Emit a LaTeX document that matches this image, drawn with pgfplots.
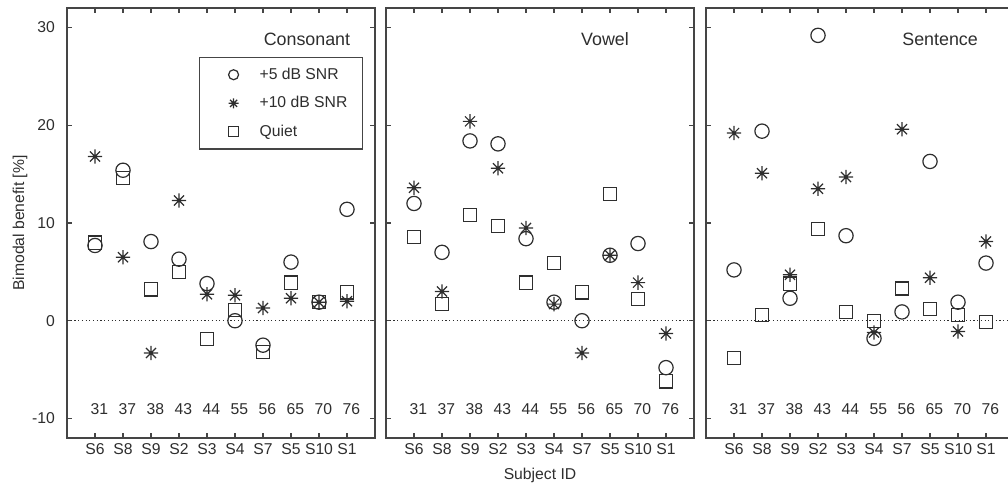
\documentclass[border=0pt]{standalone}
\usepackage{pgfplots}
\pgfplotsset{compat=1.18}
\usepackage{pgfplotstable}
\usepackage{fontspec}
\setmainfont{Liberation Sans}

% MATLAB-style asterisk: plus and cross combined
\pgfdeclareplotmark{ast8}{%
  \pgfpathmoveto{\pgfqpoint{-\pgfplotmarksize}{0pt}}%
  \pgfpathlineto{\pgfqpoint{\pgfplotmarksize}{0pt}}%
  \pgfpathmoveto{\pgfqpoint{0pt}{-\pgfplotmarksize}}%
  \pgfpathlineto{\pgfqpoint{0pt}{\pgfplotmarksize}}%
  \pgfpathmoveto{\pgfqpoint{-0.707\pgfplotmarksize}{-0.707\pgfplotmarksize}}%
  \pgfpathlineto{\pgfqpoint{0.707\pgfplotmarksize}{0.707\pgfplotmarksize}}%
  \pgfpathmoveto{\pgfqpoint{-0.707\pgfplotmarksize}{0.707\pgfplotmarksize}}%
  \pgfpathlineto{\pgfqpoint{0.707\pgfplotmarksize}{-0.707\pgfplotmarksize}}%
  \pgfusepathqstroke
}

\definecolor{ink}{gray}{0.18}
\definecolor{axisgray}{gray}{0.27}
\newcommand{\txt}{\fontsize{11}{13}\selectfont}

% x: subject position, snr5 / snr10 / quiet: bimodal benefit (%)
\pgfplotstableread{
x snr5 snr10 quiet
1 7.7 16.8 8.0
2 15.4 6.5 14.6
3 8.1 -3.3 3.2
4 6.3 12.3 5.0
5 3.8 2.7 -1.9
6 0.0 2.6 1.1
7 -2.5 1.3 -3.2
8 6.0 2.3 3.9
9 1.9 1.9 1.9
10 11.4 2.0 2.9
}\consonant

\pgfplotstableread{
x snr5 snr10 quiet
1 12.0 13.6 8.6
2 7.0 3.0 1.7
3 18.4 20.4 10.8
4 18.1 15.6 9.7
5 8.4 9.5 3.9
6 1.9 1.7 5.9
7 0.0 -3.3 2.9
8 6.7 6.7 13.0
9 7.9 3.9 2.2
10 -4.8 -1.3 -6.2
}\vowel

\pgfplotstableread{
x snr5 snr10 quiet
1 5.2 19.2 -3.8
2 19.4 15.1 0.6
3 2.3 4.7 3.8
4 29.2 13.5 9.4
5 8.7 14.7 0.9
6 -1.8 -1.2 0.0
7 0.9 19.6 3.3
8 16.3 4.4 1.2
9 1.9 -1.1 0.6
10 5.9 8.1 -0.1
}\sentence

\pgfplotstableread{
x y lab
1 -9 31
2 -9 37
3 -9 38
4 -9 43
5 -9 44
6 -9 55
7 -9 56
8 -9 65
9 -9 70
10 -9 76
}\ages

\pgfplotsset{
  panel/.style={
    anchor=south west, scale only axis,
    width=215.6pt, height=301pt,
    xmin=0, xmax=11, ymin=-12, ymax=32,
    xtick={1,...,10},
    xticklabels={S6,S8,S9,S2,S3,S4,S7,S5,S10,S1},
    ytick={-10,0,10,20,30},
    tick align=inside, major tick length=3.5pt,
    xtick pos=both, ytick pos=both,
    axis line style={axisgray, line width=0.8pt},
    tick style={axisgray, line width=0.8pt},
    tick label style={font=\txt, text=ink},
    yticklabel style={xshift=-5pt},
    label style={font=\txt, text=ink},
    /pgf/number format/assume math mode=true,
    clip=false,
  },
  s5/.style={only marks, mark=o, mark size=5pt, ink, line width=0.85pt},
  s10/.style={only marks, mark=ast8, mark size=5pt, ink, line width=0.85pt},
  sq/.style={only marks, mark=square, mark size=4.6pt, ink, line width=0.85pt},
  zeroline/.style={forget plot, ink, line width=0.8pt, dash pattern=on 0.8pt off 1.8pt},
  agelabels/.style={forget plot, only marks, mark=none, nodes near coords,
    point meta=explicit symbolic,
    nodes near coords style={anchor=center, font=\txt, text=ink, xshift=3pt}},
}

\begin{document}
\begin{tikzpicture}
% Consonant
\begin{axis}[panel, at={(46.9pt,34.3pt)},
    ylabel={Bimodal benefit [\%]},
    ylabel style={at={(axis description cs:-0.1526,0.5)}, anchor=center},
    legend style={at={(0.4286,0.886)}, anchor=north west,
      draw=axisgray, line width=0.8pt, font=\txt, text=ink,
      inner xsep=0pt, inner ysep=6pt, row sep=8pt, column sep=0pt,
      nodes={inner sep=0pt}},
    legend cell align=left,
    legend image code/.code={%
      \path[draw=none, fill=none] (0pt,-6pt) (42pt,6pt);
      \draw[#1, mark size=3.5pt] plot coordinates {(23.8pt,0pt)};},
  ]
  \addplot[s5] table[x=x, y=snr5] {\consonant};
  \addplot[s10] table[x=x, y=snr10] {\consonant};
  \addplot[sq] table[x=x, y=quiet] {\consonant};
  \legend{\makebox[72pt][l]{+5 dB SNR}, \makebox[72pt][l]{+10 dB SNR}, \makebox[72pt][l]{Quiet}}
  \addplot[zeroline] coordinates {(0,0) (11,0)};
  \addplot[agelabels] table[meta=lab] {\ages};
  \node[font=\fontsize{12.5}{15}\selectfont, text=ink] at (axis cs:8.57,28.8) {Consonant};
\end{axis}
% Vowel
\begin{axis}[panel, at={(270.2pt,34.3pt)}, yticklabels={},
    xlabel={Subject ID},
    xlabel style={at={(axis description cs:0.5,-0.086)}, anchor=center},
  ]
  \addplot[s5] table[x=x, y=snr5] {\vowel};
  \addplot[s10] table[x=x, y=snr10] {\vowel};
  \addplot[sq] table[x=x, y=quiet] {\vowel};
  \addplot[zeroline] coordinates {(0,0) (11,0)};
  \addplot[agelabels] table[meta=lab] {\ages};
  \node[font=\fontsize{12.5}{15}\selectfont, text=ink] at (axis cs:7.82,28.8) {Vowel};
\end{axis}
% Sentence
\begin{axis}[panel, at={(494.2pt,34.3pt)}, yticklabels={}]
  \addplot[s5] table[x=x, y=snr5] {\sentence};
  \addplot[s10] table[x=x, y=snr10] {\sentence};
  \addplot[sq] table[x=x, y=quiet] {\sentence};
  \addplot[zeroline] coordinates {(0,0) (11,0)};
  \addplot[agelabels] table[meta=lab] {\ages};
  \node[font=\fontsize{12.5}{15}\selectfont, text=ink] at (axis cs:8.36,28.8) {Sentence};
\end{axis}
\pgfresetboundingbox
\path[use as bounding box] (0pt,0pt) rectangle (705.6pt,340.9pt);
\end{tikzpicture}
\end{document}
